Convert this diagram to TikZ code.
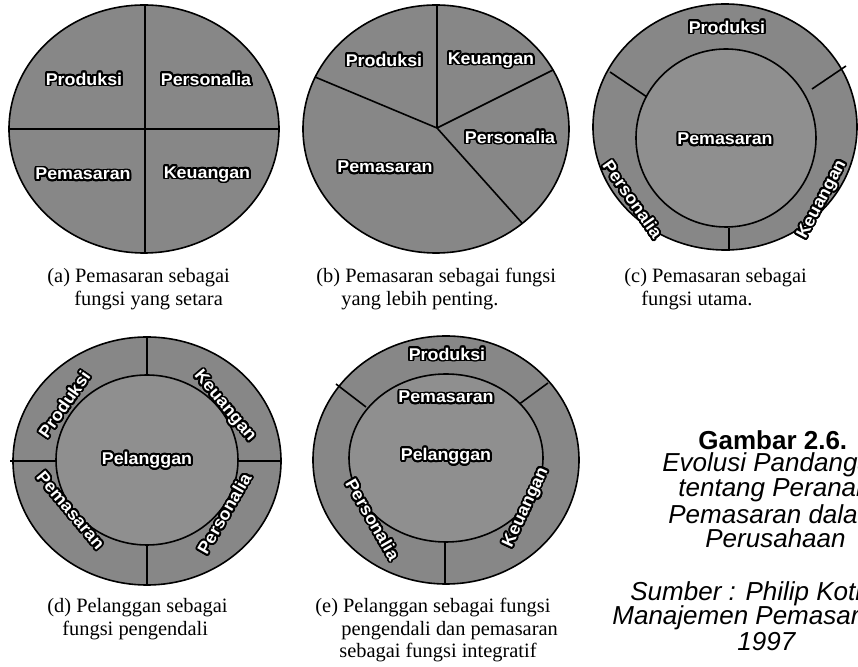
\documentclass[tikz,border=0pt]{standalone}
\usepackage{fontspec}
\setmainfont{Liberation Serif}
\newfontfamily\arialfont{Liberation Sans}
\newfontfamily\labelfont{Liberation Sans}[FakeStretch=1.05]
\usepackage[copies]{contour}
\contourlength{0.9pt}
\contournumber{24}
\definecolor{ringgray}{gray}{0.53}
\definecolor{coregray}{gray}{0.56}

\tikzset{
  part/.style={draw=black, fill=ringgray, line width=0.8pt},
  core/.style={draw=black, fill=coregray, line width=0.8pt},
  cut/.style={draw=black, line width=0.8pt},
  fname/.style={text=white, font=\labelfont\bfseries\fontsize{8.5}{10}\selectfont},
  capline/.style={anchor=west, font=\fontsize{10.2}{12}\selectfont},
  figline/.style={anchor=west, font=\arialfont\itshape\fontsize{13}{14}\selectfont},
}
% white letters with a black rim
\newcommand{\fn}[1]{\contour{black}{#1}}

\begin{document}
\begin{tikzpicture}[x=0.5pt,y=-0.5pt]
	\tikzstyle{every node}+=[inner sep=0pt]
	\useasboundingbox (0,0) rectangle (858,667);
	\clip (0,0) rectangle (858,667);
	% (a) equal parts
	\draw [part] (144,129) circle [x radius=135, y radius=124];
	\draw [cut] (9,129) -- (279,129);
	\draw [cut] (145,5) -- (145,253);
	\node [fname] (aProd) at (84,80) {\fn{Produksi}};
	\node [fname] (aPers) at (206,80) {\fn{Personalia}};
	\node [fname] (aPem) at (83,175) {\fn{Pemasaran}};
	\node [fname] (aKeu) at (207,175) {\fn{Keuangan}};
	\node [capline] (aCap1) at (47,278) {(a) Pemasaran sebagai};
	\node [capline] (aCap2) at (74,301) {fungsi yang setara};
	% (b) bigger share
	\draw [part] (436,129) circle [x radius=133, y radius=124];
	\coordinate (bMid) at (437,128);
	\draw [cut] (bMid) -- (437,5);
	\draw [cut] (bMid) -- (315,77);
	\draw [cut] (bMid) -- (553,70);
	\draw [cut] (bMid) -- (522,223);
	\node [fname] (bProd) at (384,61) {\fn{Produksi}};
	\node [fname] (bKeu) at (491,61) {\fn{Keuangan}};
	\node [fname] (bPers) at (510,138) {\fn{Personalia}};
	\node [fname] (bPem) at (385,168) {\fn{Pemasaran}};
	\node [capline] (bCap1) at (316,278) {(b) Pemasaran sebagai fungsi};
	\node [capline] (bCap2) at (341,301) {yang lebih penting.};
	% (c) marketing in the middle
	\draw [part] (725,127) circle [x radius=132, y radius=123];
	\draw [cut] (610,72) -- (647,97);
	\draw [cut] (846,66) -- (812,89);
	\draw [cut] (729,228) -- (729,251);
	\draw [core] (726,138) circle [x radius=90, y radius=89];
	\node [fname] (cProd) at (727,28) {\fn{Produksi}};
	\node [fname] (cPem) at (725,140) {\fn{Pemasaran}};
	\node [fname, rotate=-55] (cPers) at (632,200) {\fn{Personalia}};
	\node [fname, rotate=62] (cKeu) at (823,200) {\fn{Keuangan}};
	\node [capline] (cCap1) at (624,278) {(c) Pemasaran sebagai};
	\node [capline] (cCap2) at (641,301) {fungsi utama.};
	% (d) customer in the middle
	\draw [part] (147,461) circle [x radius=134, y radius=124];
	\draw [cut] (147,337) -- (147,375);
	\draw [cut] (147,545) -- (147,585);
	\draw [cut] (10,461) -- (56,461);
	\draw [cut] (238,461) -- (281,461);
	\draw [core] (147,460) circle [x radius=91, y radius=85];
	\node [fname, rotate=55] (dProd) at (65,405) {\fn{Produksi}};
	\node [fname, rotate=-50] (dKeu) at (224,407) {\fn{Keuangan}};
	\node [fname] (dPel) at (147,461) {\fn{Pelanggan}};
	\node [fname, rotate=-50] (dPem) at (70,511) {\fn{Pemasaran}};
	\node [fname, rotate=60] (dPers) at (225,514) {\fn{Personalia}};
	\node [capline] (dCap1) at (47,608) {(d) Pelanggan sebagai};
	\node [capline] (dCap2) at (62,631) {fungsi pengendali};
	% (e) customer in the middle, marketing around it
	\draw [part] (446,460) circle [x radius=133, y radius=124];
	\draw [cut] (336,384) -- (366,407);
	\draw [cut] (548,383) -- (518,405);
	\draw [cut] (445,541) -- (445,583);
	\draw [core] (446,458) circle [x radius=97, y radius=84];
	\node [fname] (eProd) at (447,355) {\fn{Produksi}};
	\node [fname] (ePem) at (446,398) {\fn{Pemasaran}};
	\node [fname] (ePel) at (446,457) {\fn{Pelanggan}};
	\node [fname, rotate=-60] (ePers) at (372,520) {\fn{Personalia}};
	\node [fname, rotate=65] (eKeu) at (527,508) {\fn{Keuangan}};
	\node [capline] (eCap1) at (315,608) {(e) Pelanggan sebagai fungsi};
	\node [capline] (eCap2) at (341,631) {pengendali dan pemasaran};
	\node [capline] (eCap3) at (339,653) {sebagai fungsi integratif};
	% figure title
	\node [figline, font=\arialfont\bfseries\fontsize{13}{14}\selectfont] (gTitle) at (698,440) {Gambar 2.6.};
	\node [figline] (gLine1) at (662,465) {Evolusi Pandangan};
	\node [figline] (gLine2) at (678,490) {tentang Peranan};
	\node [figline] (gLine3) at (668,514) {Pemasaran dalam};
	\node [figline] (gLine4) at (705,538) {Perusahaan};
	\node [figline] (gSrc1) at (630,594) {Sumber : Philip Kotler,};
	\node [figline] (gSrc2) at (612,618) {Manajemen Pemasaran,};
	\node [figline] (gSrc3) at (737,642) {1997};
\end{tikzpicture}
\end{document}
